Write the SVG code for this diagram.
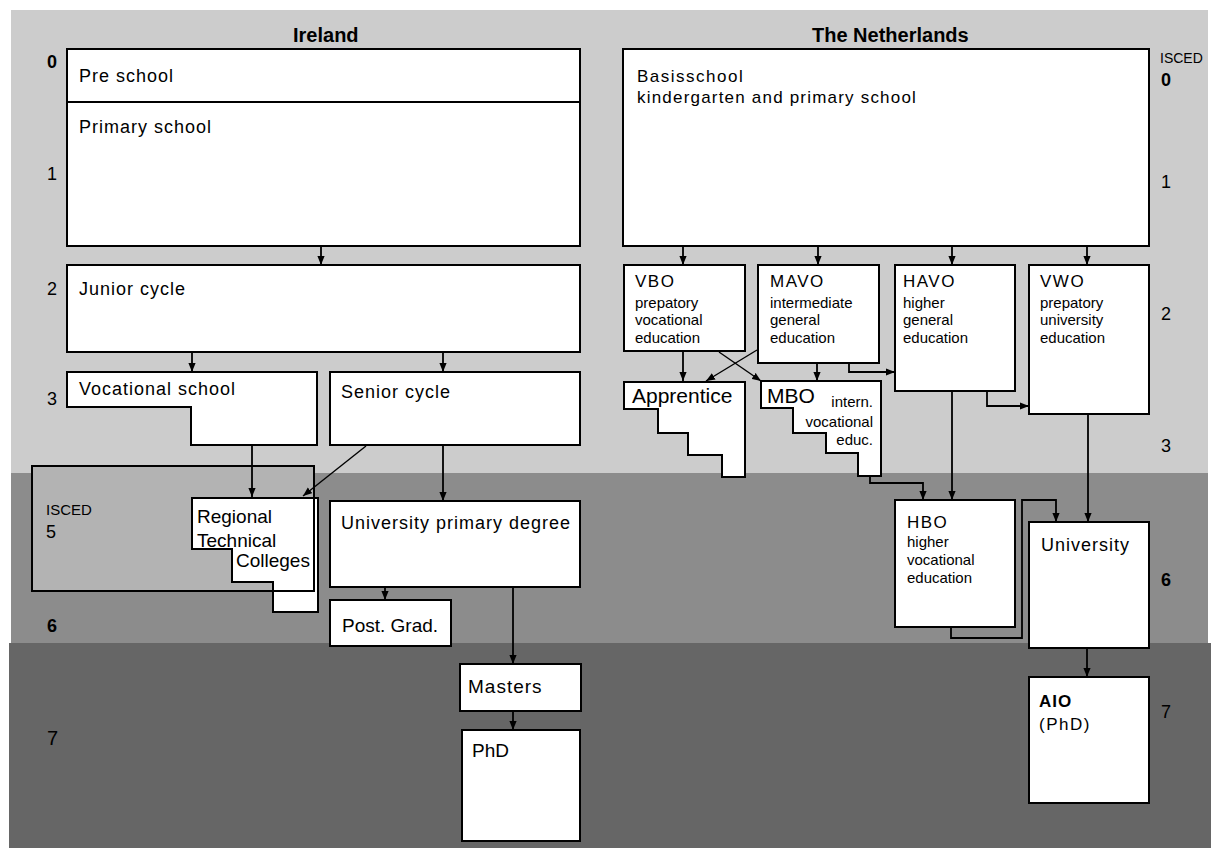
<svg xmlns="http://www.w3.org/2000/svg" width="1211" height="848" viewBox="0 0 1211 848">
<style>
text{font-family:"Liberation Sans",Arial,sans-serif;fill:#000}
.t{font-size:18px;letter-spacing:1px}
.tl{font-size:19px}
.tx{font-size:21px}
.m{font-size:17px;letter-spacing:1.5px}
.s{font-size:15px}
.h{font-size:20px;font-weight:bold}
.n{font-size:18px}
.nb{font-size:18px;font-weight:bold}
.is{font-size:14px}
.box{fill:#fff;stroke:#000;stroke-width:2}
.c{fill:none;stroke:#000;stroke-width:1.8}
</style>
<defs>
<marker id="ah" viewBox="0 0 10 8" refX="10" refY="4" markerWidth="9" markerHeight="8" markerUnits="userSpaceOnUse" orient="auto">
<path d="M0,0 L10,4 L0,8 z" fill="#000"/>
</marker>
</defs>
<g id="bands">
<rect x="11" y="10" width="1197" height="463" fill="#cccccc"/>
<rect x="11" y="473" width="1197" height="170" fill="#8c8c8c"/>
<rect x="9" y="643" width="1202" height="205" fill="#666666"/>
</g>
<g id="titles">
<text class="h" x="293" y="42">Ireland</text>
<text class="h" x="812" y="42">The Netherlands</text>
</g>
<g id="levels">
<text class="nb" x="47" y="68">0</text>
<text class="n" x="47" y="180">1</text>
<text class="n" x="47" y="295">2</text>
<text class="n" x="47" y="405">3</text>
<text class="nb" x="47" y="632">6</text>
<text class="n" x="47" y="745" style="font-size:20px">7</text>
<text class="is" x="1160" y="63">ISCED</text>
<text class="nb" x="1161" y="86">0</text>
<text class="n" x="1161" y="188">1</text>
<text class="n" x="1161" y="320">2</text>
<text class="n" x="1161" y="452">3</text>
<text class="nb" x="1161" y="586">6</text>
<text class="n" x="1161" y="718">7</text>
</g>
<g id="isced5">
<rect x="32" y="466" width="282" height="125" fill="#b3b3b3" stroke="none"/>
<text x="46" y="515" style="font-size:15px">ISCED</text>
<text class="n" x="46" y="538">5</text>
</g>
<g id="connectors">
<path class="c" marker-end="url(#ah)" d="M321,247 V265"/>
<path class="c" marker-end="url(#ah)" d="M192,352 V372"/>
<path class="c" marker-end="url(#ah)" d="M443,352 V372"/>
<path class="c" marker-end="url(#ah)" d="M252,446 V497"/>
<path class="c" style="stroke-width:1.4" marker-end="url(#ah)" d="M366,446 L303,496"/>
<path class="c" marker-end="url(#ah)" d="M443,446 V501"/>
<path class="c" marker-end="url(#ah)" d="M385,588 V600"/>
<path class="c" marker-end="url(#ah)" d="M513,588 V664"/>
<path class="c" marker-end="url(#ah)" d="M513,712 V730"/>
<path class="c" marker-end="url(#ah)" d="M683,247 V265"/>
<path class="c" marker-end="url(#ah)" d="M818,247 V265"/>
<path class="c" marker-end="url(#ah)" d="M952,247 V265"/>
<path class="c" marker-end="url(#ah)" d="M1087,247 V265"/>
<path class="c" marker-end="url(#ah)" d="M683,352 V381"/>
<path class="c" style="stroke-width:1.4" marker-end="url(#ah)" d="M719,352 L761,381"/>
<path class="c" style="stroke-width:1.4" marker-end="url(#ah)" d="M757,350 L706,381"/>
<path class="c" marker-end="url(#ah)" d="M817,364 V381"/>
<path class="c" marker-end="url(#ah)" d="M849,364 V372 H895"/>
<path class="c" marker-end="url(#ah)" d="M987,392 V406 H1029"/>
<path class="c" marker-end="url(#ah)" d="M952,392 V500"/>
<path class="c" marker-end="url(#ah)" d="M1088,415 V522"/>
<path class="c" marker-end="url(#ah)" d="M870,477 V483 H923 V500"/>
<path class="c" marker-end="url(#ah)" d="M951,628 V638 H1022 V500 H1056 V522"/>
<path class="c" marker-end="url(#ah)" d="M1087,649 V677"/>
</g>
<g id="preschool">
<rect class="box" x="67" y="49" width="513" height="53"/>
<text class="t" x="79" y="82">Pre school</text>
</g>
<g id="primary">
<rect class="box" x="67" y="102" width="513" height="144"/>
<text class="t" x="79" y="133">Primary school</text>
</g>
<g id="junior">
<rect class="box" x="67" y="265" width="513" height="87"/>
<text class="t" x="79" y="295">Junior cycle</text>
</g>
<g id="vocational">
<polygon class="box" points="67,372 317,372 317,445 191,445 191,407 67,407"/>
<text class="t" x="79" y="395">Vocational school</text>
</g>
<g id="senior">
<rect class="box" x="330" y="372" width="250" height="73"/>
<text class="t" x="341" y="398">Senior cycle</text>
</g>
<g id="regional">
<polygon class="box" points="192,498 318,498 318,612 273,612 273,582 232,582 232,549 192,549"/>
<text class="tl" x="197" y="523">Regional</text>
<text class="tl" x="197" y="547">Technical</text>
<text class="tl" x="236" y="567">Colleges</text>
</g>
<rect id="isced5-outline" x="32" y="466" width="282" height="125" fill="none" stroke="#000" stroke-width="2"/>
<g id="univprimary">
<rect class="box" x="330" y="501" width="250" height="86"/>
<text class="t" x="341" y="529">University primary degree</text>
</g>
<g id="postgrad">
<rect class="box" x="330" y="600" width="121" height="46"/>
<text class="tl" x="342" y="632">Post. Grad.</text>
</g>
<g id="masters">
<rect class="box" x="460" y="664" width="121" height="47"/>
<text class="tl" x="468" y="693" style="letter-spacing:1px">Masters</text>
</g>
<g id="phd">
<rect class="box" x="462" y="730" width="118" height="111"/>
<text class="tl" x="472" y="757">PhD</text>
</g>
<g id="basisschool">
<rect class="box" x="623" y="49" width="526" height="197"/>
<text class="m" x="637" y="82">Basisschool</text>
<text class="m" x="637" y="103" style="letter-spacing:1.2px">kindergarten and primary school</text>
</g>
<g id="vbo">
<rect class="box" x="624" y="265" width="121" height="86"/>
<text class="m" x="635" y="287">VBO</text>
<text class="s" x="635" y="308">prepatory</text>
<text class="s" x="635" y="325">vocational</text>
<text class="s" x="635" y="343">education</text>
</g>
<g id="mavo">
<rect class="box" x="758" y="265" width="121" height="98"/>
<text class="m" x="770" y="287">MAVO</text>
<text class="s" x="770" y="308">intermediate</text>
<text class="s" x="770" y="325">general</text>
<text class="s" x="770" y="343">education</text>
</g>
<g id="havo">
<rect class="box" x="895" y="265" width="120" height="126"/>
<text class="m" x="903" y="287">HAVO</text>
<text class="s" x="903" y="308">higher</text>
<text class="s" x="903" y="325">general</text>
<text class="s" x="903" y="343">education</text>
</g>
<g id="vwo">
<rect class="box" x="1029" y="265" width="120" height="149"/>
<text class="m" x="1040" y="287">VWO</text>
<text class="s" x="1040" y="308">prepatory</text>
<text class="s" x="1040" y="325">university</text>
<text class="s" x="1040" y="343">education</text>
</g>
<g id="apprentice">
<polygon class="box" points="624,382 745,382 745,477 722,477 722,455 688,455 688,433 658,433 658,409 624,409"/>
<text class="tx" x="632" y="403">Apprentice</text>
</g>
<g id="mbo">
<polygon class="box" points="761,381 881,381 881,476 858,476 858,453 826,453 826,433 793,433 793,408 761,408"/>
<text class="tx" x="767" y="403">MBO</text>
<text class="s" x="873" y="407" text-anchor="end">intern.</text>
<text class="s" x="873" y="427" text-anchor="end">vocational</text>
<text class="s" x="873" y="445" text-anchor="end">educ.</text>
</g>
<g id="hbo">
<rect class="box" x="895" y="500" width="120" height="127"/>
<text class="m" x="907" y="528">HBO</text>
<text class="s" x="907" y="547">higher</text>
<text class="s" x="907" y="565">vocational</text>
<text class="s" x="907" y="583">education</text>
</g>
<g id="university">
<rect class="box" x="1029" y="522" width="120" height="126"/>
<text class="t" x="1041" y="551">University</text>
</g>
<g id="aio">
<rect class="box" x="1029" y="677" width="120" height="126"/>
<text class="m" x="1039" y="707" style="font-weight:bold;letter-spacing:1px">AIO</text>
<text class="m" x="1039" y="730">(PhD)</text>
</g>
</svg>
